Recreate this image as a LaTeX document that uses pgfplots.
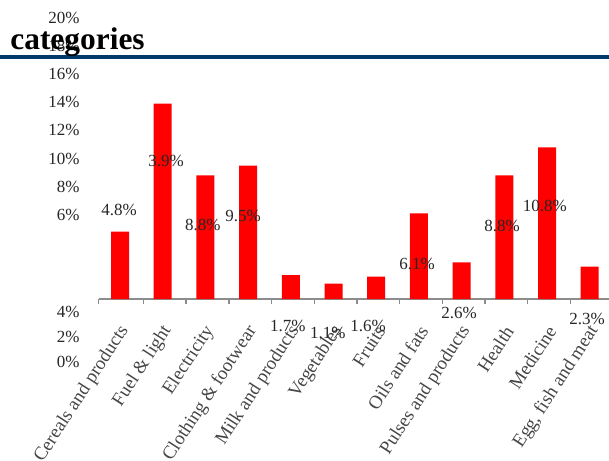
\documentclass[border=0pt]{standalone}
\usepackage{pgfplots}
\pgfplotsset{compat=1.18}
\usepackage{fontspec}
\setmainfont{Liberation Serif}
\definecolor{titleblue}{RGB}{0,58,106}
\definecolor{axgray}{RGB}{140,140,140}
\definecolor{lblgray}{RGB}{70,70,70}
\begin{document}
\begin{tikzpicture}
\begin{axis}[
  x=21.35pt, y=7.025pt,
  xmin=-0.5, xmax=11.5, ymin=-5, ymax=21,
  clip=false,
  axis x line*=middle, axis y line*=left,
  y axis line style={draw=none},
  x axis line style={draw=axgray, line width=1.1pt},
  ytick={6,8,...,20},
  yticklabels={6\%,8\%,10\%,12\%,14\%,16\%,18\%,20\%},
  extra y ticks={-0.95,-2.68,-4.46},
  extra y tick labels={4\%,2\%,0\%},
  ytick style={draw=none},
  extra y tick style={tick style={draw=none}},
  yticklabel style={font=\fontsize{8.5}{9}\selectfont, text=black!85, anchor=east, inner sep=0pt, xshift=-9.3pt},
  xtick={0,...,11},
  xticklabels={Cereals and products, Fuel \& light, Electricity, Clothing \& footwear, Milk and products, Vegetables, Fruits, Oils and fats, Pulses and products, Health, Medicine, {Egg, fish and meat}},
  major x tick style={draw=none},
  minor xtick={-0.5,0.55,1.55,2.55,3.55,4.55,5.55,6.55,7.55,8.55,9.55,10.55},
  minor x tick style={draw=axgray, line width=0.7pt},
  minor tick length=2.5pt,
  xtick align=outside,
  xticklabel style={font=\fontsize{9.4}{10}\selectfont, text=lblgray, anchor=east, inner sep=0pt, xshift=2.5pt, yshift=-10pt, rotate=57},
]
\addplot[ybar, bar width=9pt, fill=red, draw=none] coordinates {
  (0,4.8) (1,13.9) (2,8.8) (3,9.5) (4,1.7) (5,1.1)
  (6,1.6) (7,6.1) (8,2.6) (9,8.8) (10,10.8) (11,2.3)
};
\addplot[only marks, mark=none, nodes near coords={\pgfplotspointmeta\%},
  point meta=explicit symbolic,
  every node near coord/.style={anchor=center, inner sep=0pt, font=\fontsize{8.5}{9}\selectfont, text=black!85}]
  table[meta=label] {
x y label
-0.02 6.33 4.8
1.08 9.82 3.9
1.94 5.27 8.8
2.88 5.91 9.5
3.93 -1.92 1.7
4.87 -2.42 1.1
5.81 -1.92 1.6
6.96 2.49 6.1
7.94 -1.00 2.6
8.95 5.20 8.8
9.95 6.62 10.8
10.94 -1.42 2.3
};
\coordinate (O) at (axis cs:0,0);
\end{axis}
\draw[titleblue, line width=2pt] ([shift={(-62pt,121pt)}]O) -- ([shift={(246pt,121pt)}]O);
\node[anchor=base west, inner sep=0pt, font=\fontsize{15.7}{16}\selectfont\bfseries] at ([shift={(-55pt,124.5pt)}]O) {categories};
\pgfresetboundingbox
\path[use as bounding box] ([shift={(-60pt,-80.5pt)}]O) rectangle ([shift={(244.5pt,149.5pt)}]O);
\end{tikzpicture}
\end{document}
